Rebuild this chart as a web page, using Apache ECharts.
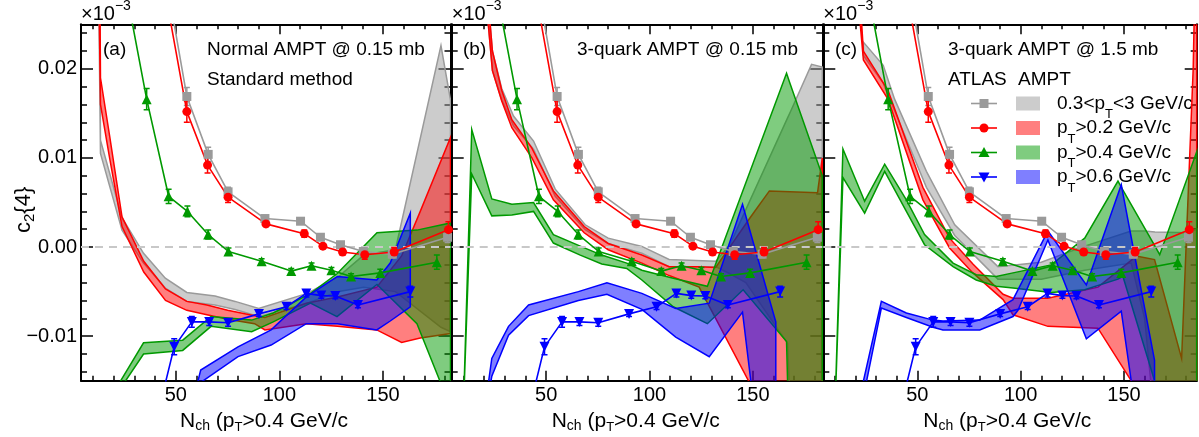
<!DOCTYPE html>
<html><head><meta charset="utf-8">
<script src="https://cdn.jsdelivr.net/npm/echarts@6/dist/echarts.min.js"></script>
<style>html,body{margin:0;padding:0;background:#fff;}#c{width:1199px;height:437px;}</style>
</head><body><div id="c"></div><script>
// ================= DATA (y values in units of 1e-3) =================
// ATLAS data points (same in every panel)
const atlasGrayX  = [46.5, 55.3, 65.6, 75.2, 93.0, 110.2, 119.8, 129.5, 140.5, 154.5, 181.2];
const atlasGrayY  = [28.6, 16.9, 10.4, 6.2, 3.2, 2.9, 1.1, 0.26, -0.5, -0.8, 1.1];
const atlasGrayE  = [0, 1.0, 0.8, 0.5, 0.3, 0.3, 0.3, 0.3, 0.3, 0.4, 0.6];
const atlasRedX   = [46.5, 55.3, 65.3, 75.2, 93.5, 112, 121, 130.5, 141.2, 155.4, 181.6];
const atlasRedY   = [26.5, 15.2, 9.2, 5.6, 2.6, 1.5, 0.1, -0.56, -0.86, -0.56, 1.95];
const atlasRedE   = [0, 1.2, 0.9, 0.6, 0.3, 0.4, 0.2, 0.3, 0.5, 0.5, 0.9];
const atlasGreenX = [25.5, 35.9, 46.5, 55.6, 65.6, 75.4, 91.4, 105.7, 115.5, 125.1, 134.6, 148.7, 176];
const atlasGreenY = [29.4, 16.6, 5.7, 4.0, 1.4, -0.5, -1.6, -2.7, -2.1, -2.6, -3.3, -2.9, -1.7];
const atlasGreenE = [0, 1.2, 0.8, 0.6, 0.5, 0.4, 0.3, 0.3, 0.3, 0.3, 0.3, 0.4, 0.8];
const atlasBlueX  = [41, 49.2, 57.7, 66.1, 75.2, 90.1, 103.4, 113, 120.2, 127, 137.9, 163.2];
const atlasBlueY  = [-19, -11.2, -8.4, -8.4, -8.5, -7.5, -6.7, -5.2, -5.45, -5.5, -6.5, -5.0];
const atlasBlueE  = [0, 0.9, 0.6, 0.4, 0.4, 0.3, 0.3, 0.4, 0.3, 0.3, 0.3, 0.6];

// AMPT bands, panel (a)
const grayA_x  = [12.2, 13.6, 24, 34.4, 44.9, 55.3, 68.9, 78.6, 90, 113.4, 128.6, 140.7, 156, 178, 182.6];
const grayA_lo = [40, 10.5, 1.9, -1.8, -4.6, -6.1, -6.5, -7.0, -7.8, -6.3, -5.0, -4.5, -5.0, -9.0, -9.5];
const grayA_hi = [70, 12, 3.3, -0.7, -3.5, -5.1, -5.5, -6.1, -6.9, -5.2, -3.3, -0.9, -0.3, 22.6, 16.5];
const redA_x   = [12.2, 13.6, 18, 24, 34.5, 45, 55.3, 65, 75, 88, 93, 113, 128, 147, 159, 168, 182.6];
const redA_lo  = [40, 16, 10, 2.3, -2.8, -6.0, -7.1, -7.6, -8.1, -8.6, -9.3, -8.6, -8.9, -9.3, -10.7, -10.2, -9.7];
const redA_hi  = [70, 19, 12.5, 3.4, -1.6, -4.7, -6.1, -6.5, -7.1, -7.7, -7.9, -6.3, -5.6, -4.5, -1.0, 4.0, 12.3];
const greenA_x  = [20, 34.4, 53.3, 67, 86.6, 97, 115, 127.8, 147.1, 166.4, 182.6];
const greenA_lo = [-17, -12.0, -11.6, -8.9, -9.5, -8.4, -6.3, -7.8, -4.2, -8.6, -18];
const greenA_hi = [-16.3, -10.75, -10.45, -7.8, -8.2, -7.4, -5.2, -3.0, 1.6, 1.9, 2.7];
const blueA_x  = [58, 62, 80, 96, 113, 128, 147, 153.5, 163.2];
const blueA_lo = [-19, -15.2, -12.3, -11.0, -8.6, -8.6, -9.3, -8.3, -6.7];
const blueA_hi = [-17.5, -13.8, -11.2, -9.3, -5.6, -3.3, -3.7, -1.8, 3.8];

// AMPT bands, panel (b)
const grayB_x  = [22.0, 24, 28.5, 34.2, 43.9, 54.4, 68.9, 80, 96.3, 109.5, 132.1, 138.9, 146.6, 166.8, 168.4, 178.4, 183.6];
const grayB_lo = [25, 19.8, 16.5, 13.6, 11.0, 5.7, 1.95, 0.4, -0.7, -2.2, -2.2, -3.0, -4.0, -10.8, -20, -20, -20];
const grayB_hi = [27.5, 22.0, 17.8, 14.7, 11.9, 6.5, 2.5, 1.0, 0.07, -1.4, -1.6, 0.26, 4.2, 14.5, 15.3, 20.5, 20.2];
const redB_x   = [22.0, 24, 28.5, 33.4, 43.1, 53.5, 68.4, 80, 96.3, 109.5, 124, 132, 149, 158, 181.3, 183.6];
const redB_lo  = [25, 19.8, 16.4, 13.4, 10.0, 5.3, 1.6, -0.3, -1.8, -3.2, -4.5, -8.0, -15.5, -20, -20, -20];
const redB_hi  = [27.5, 22.0, 17.6, 14.3, 11.1, 6.3, 2.3, 0.4, -0.9, -2.2, -2.2, -2.3, 3.4, 6.3, 6.1, 10];
const greenB_x  = [10.3, 14.0, 23.7, 33.4, 43.9, 53.5, 66.5, 76.9, 89, 96.3, 111.5, 128, 145.3, 166.3, 167.9, 183.6];
const greenB_lo = [-16, 8.2, 3.5, 3.6, 4.0, 0.45, -0.9, -1.9, -2.4, -3.7, -6.7, -8.6, -4.8, -10.6, -25, -25];
const greenB_hi = [-15.5, 13.2, 5.4, 4.8, 5.0, 1.4, 0.1, -0.9, -1.8, -2.6, -3.5, -4.4, 6.4, 19.5, 18.4, 8.0];
const blueB_x  = [21, 23.7, 31.8, 41.5, 65.6, 79.4, 96.3, 112.7, 128.9, 145, 149, 161.1];
const blueB_lo = [-18, -14.5, -9.9, -7.7, -6.0, -5.3, -7.0, -10.1, -12.3, -7.3, -15, -25];
const blueB_hi = [-17, -12.5, -8.9, -6.5, -5.0, -4.0, -5.2, -6.9, -6.3, 4.8, 1.5, -8.4];

// AMPT bands, panel (c)
const grayC_x  = [23.9, 33.5, 39, 54.4, 68.1, 89, 110, 131, 153.5, 160, 165, 181, 185.2];
const grayC_lo = [21.5, 18.4, 15.3, 6.7, 1.3, -3.6, -3.6, -2.6, -1.8, -8, -20, -20, -20];
const grayC_hi = [23, 20.4, 16.6, 8.5, 2.5, -2.2, -1.7, 0.1, 1.8, 1.8, 1.7, 1.6, 2.0];
const redC_x   = [22.0, 23.9, 35.8, 52.7, 65.6, 76.9, 91.5, 96.3, 113.2, 137.4, 153.5, 156, 164.8, 177.9, 183.5, 185.2];
const redC_lo  = [26, 21.0, 16.6, 5.3, -0.1, -2.9, -5.9, -7.6, -8.9, -9.1, -15, -20, -20, -20, -20, -20];
const redC_hi  = [29, 22.0, 17.6, 6.7, 1.0, -1.9, -5.3, -5.75, -5.75, -4.5, -1.5, -1.0, -1.4, -12.5, 20, 40];
const greenC_x  = [10.5, 14.0, 24.5, 34.2, 44.7, 53.5, 67.3, 78.5, 88.2, 96.3, 114.8, 131, 147.1, 149.5, 164.8, 167.3, 185.2];
const greenC_lo = [-16, 7.8, 3.8, 8.5, 4.0, 0.26, -2.2, -3.7, -4.4, -4.6, -5.1, -4.8, -3.6, -3.3, -15, -25, -25];
const greenC_hi = [-15.5, 11.0, 5.15, 9.3, 5.3, 1.4, -1.8, -3.1, -3.3, -2.9, -2.0, 1.0, 7.4, 6.4, 0.2, -0.86, 10.7];
const blueC_x  = [22.0, 32.6, 44.7, 57.6, 62.4, 80.2, 96.3, 98.7, 113.2, 131.8, 148.7, 153.5, 164.8];
const blueC_lo = [-19, -6.85, -7.9, -9.0, -9.3, -9.3, -7.8, -7.1, 0.8, -10.3, -7.2, -15, -25];
const blueC_hi = [-17, -6.1, -7.4, -8.2, -8.3, -8.2, -5.9, -4.8, 1.8, -4.25, 7.0, 1.1, -12.7];

// axis ranges and ticks
const panelXRange = [[4.2, 182.6], [4.3, 183.6], [4.5, 185.2]];
const yRange = [-15, 25];
const xMajorTicks = [50, 100, 150];
const xMinorTicks = [10, 20, 30, 40, 60, 70, 80, 90, 110, 120, 130, 140, 160, 170, 180];
const yMajorTicks = [-10, 0, 10, 20];
const yMinorTicks = [-14, -12, -8, -6, -4, -2, 2, 4, 6, 8, 12, 14, 16, 18, 22, 24];
const panelLabels = ['(a)', '(b)', '(c)'];
const panelTitles = ['Normal AMPT @ 0.15 mb', '3-quark AMPT @ 0.15 mb', '3-quark AMPT @ 1.5 mb'];
const legendLabels = [['0.3<p', 'T', '<3 GeV/c'], ['p', 'T', '>0.2 GeV/c'], ['p', 'T', '>0.4 GeV/c'], ['p', 'T', '>0.6 GeV/c']];

// ================= STYLE / LAYOUT =================
const FONT = '"Liberation Sans", Arial, Helvetica, sans-serif';
const gridPx = [[81, 369.5], [451.7, 370.6], [823.3, 373.4]];
const GTOP = 24.3, GH = 356.4;
const COL = {
  gray:  {line: '#9a9a9a', fill: 'rgba(153,153,153,0.5)'},
  red:   {line: '#ff0000', fill: 'rgba(255,0,0,0.5)'},
  green: {line: '#009900', fill: 'rgba(0,153,0,0.5)'},
  blue:  {line: '#0000ff', fill: 'rgba(0,0,255,0.5)'}
};
const bandsByPanel = [
  [[grayA_x, grayA_lo, grayA_hi, 'gray'], [redA_x, redA_lo, redA_hi, 'red'], [greenA_x, greenA_lo, greenA_hi, 'green'], [blueA_x, blueA_lo, blueA_hi, 'blue']],
  [[grayB_x, grayB_lo, grayB_hi, 'gray'], [redB_x, redB_lo, redB_hi, 'red'], [greenB_x, greenB_lo, greenB_hi, 'green'], [blueB_x, blueB_lo, blueB_hi, 'blue']],
  [[grayC_x, grayC_lo, grayC_hi, 'gray'], [redC_x, redC_lo, redC_hi, 'red'], [greenC_x, greenC_lo, greenC_hi, 'green'], [blueC_x, blueC_lo, blueC_hi, 'blue']]
];
const atlas = [
  [atlasGrayX, atlasGrayY, atlasGrayE, 'gray', 'rect', 9, 0],
  [atlasRedX, atlasRedY, atlasRedE, 'red', 'circle', 9, 0],
  [atlasGreenX, atlasGreenY, atlasGreenE, 'green', 'triangle', 10, 0],
  [atlasBlueX, atlasBlueY, atlasBlueE, 'blue', 'triangle', 10, 180]
];

const grids = [], xAxes = [], yAxes = [], series = [];
function yFmt(v) { return (v < 0 ? '\u2212' : '') + (Math.abs(v) / 1000).toFixed(2); }

for (let gi = 0; gi < 3; gi++) {
  grids.push({left: gridPx[gi][0], top: GTOP, width: gridPx[gi][1], height: GH, containLabel: false});
  const [xmin, xmax] = panelXRange[gi];
  const mkX = (pos, ticks, len, lineShow, labels) => ({
    type: 'value', gridIndex: gi, position: pos, min: xmin, max: xmax,
    axisLine: {show: lineShow, onZero: false, lineStyle: {color: '#000', width: 2}},
    axisTick: {show: true, inside: true, length: len, customValues: ticks, lineStyle: {color: '#000', width: 1.5}},
    axisLabel: labels ? {show: true, customValues: xMajorTicks, fontSize: 20, fontFamily: FONT, color: '#000', margin: 5} : {show: false},
    splitLine: {show: false}
  });
  xAxes.push(mkX('bottom', xMajorTicks, 10, true, true));
  xAxes.push(mkX('bottom', xMinorTicks, 5, false, false));
  xAxes.push(mkX('top', xMajorTicks, 10, true, false));
  xAxes.push(mkX('top', xMinorTicks, 5, false, false));
  const mkY = (pos, ticks, len, lineShow, labels) => ({
    type: 'value', gridIndex: gi, position: pos, min: yRange[0], max: yRange[1],
    axisLine: {show: lineShow, onZero: false, lineStyle: {color: '#000', width: 2}},
    axisTick: {show: true, inside: true, length: len, customValues: ticks, lineStyle: {color: '#000', width: 1.5}},
    axisLabel: labels ? {show: true, customValues: yMajorTicks, formatter: yFmt, fontSize: 20, fontFamily: FONT, color: '#000', margin: 4} : {show: false},
    splitLine: {show: false}
  });
  yAxes.push(mkY('left', yMajorTicks, 12, true, gi === 0));
  yAxes.push(mkY('left', yMinorTicks, 6, false, false));
  yAxes.push(mkY('right', yMajorTicks, 12, true, false));
  yAxes.push(mkY('right', yMinorTicks, 6, false, false));

  // bands
  bandsByPanel[gi].forEach(([bx, blo, bhi, key], bi) => {
    const data = bx.map((x, k) => [x, blo[k], bhi[k]]);
    series.push({
      type: 'custom', xAxisIndex: 4 * gi, yAxisIndex: 4 * gi, clip: true, silent: true, z: 2 + bi * 0.01,
      data: data, encode: {x: 0, y: [1, 2]},
      renderItem: (params, api) => {
        if (params.dataIndex !== 0) return null;
        const up = data.map(d => api.coord([d[0], d[2]]));
        const dn = data.map(d => api.coord([d[0], d[1]])).reverse();
        return {type: 'polygon', shape: {points: up.concat(dn)},
          style: {fill: COL[key].fill, stroke: COL[key].line, lineWidth: 1.5, lineJoin: 'miter'}};
      }
    });
  });
  // zero dashed line
  series.push({
    type: 'line', xAxisIndex: 4 * gi, yAxisIndex: 4 * gi, data: [], z: 3, silent: true,
    markLine: {silent: true, symbol: 'none', label: {show: false}, animation: false,
      lineStyle: {type: [8, 6], color: '#c8c8c8', width: 2}, data: [{yAxis: 0}]}
  });
  // ATLAS
  atlas.forEach(([ax, ay, ae, key, sym, size, rot]) => {
    const c = COL[key].line;
    series.push({
      type: 'line', xAxisIndex: 4 * gi, yAxisIndex: 4 * gi, data: ax.map((x, k) => [x, ay[k]]),
      symbol: sym, symbolSize: size, symbolRotate: rot, showAllSymbol: true, silent: true, z: 6,
      lineStyle: {color: c, width: 1.6}, itemStyle: {color: c}
    });
    series.push({
      type: 'custom', xAxisIndex: 4 * gi, yAxisIndex: 4 * gi, clip: true, silent: true, z: 6,
      data: ax.map((x, k) => [x, ay[k], ae[k]]), encode: {x: 0, y: 1},
      renderItem: (params, api) => {
        const x = api.value(0), y = api.value(1), e = api.value(2);
        if (!e) return null;
        const a = api.coord([x, y - e]), b = api.coord([x, y + e]);
        const st = {stroke: c, lineWidth: 1.5};
        return {type: 'group', children: [
          {type: 'line', shape: {x1: a[0], y1: a[1], x2: b[0], y2: b[1]}, style: st},
          {type: 'line', shape: {x1: a[0] - 3, y1: a[1], x2: a[0] + 3, y2: a[1]}, style: st},
          {type: 'line', shape: {x1: b[0] - 3, y1: b[1], x2: b[0] + 3, y2: b[1]}, style: st}
        ]};
      }
    });
  });
}

// ================= TEXT =================
const mctx = document.createElement('canvas').getContext('2d');
function tw(t, s) { mctx.font = s + 'px ' + FONT; return mctx.measureText(t).width; }
function rtext(segs, x, y, rotation) {
  const els = []; let cx = 0;
  segs.forEach(([t, s, dy]) => {
    els.push({type: 'text', x: cx, y: dy || 0, silent: true,
      style: {text: t, font: s + 'px ' + FONT, fill: '#000', textAlign: 'left', textVerticalAlign: 'middle'}});
    cx += tw(t, s);
  });
  return {type: 'group', x: x, y: y, rotation: rotation || 0, silent: true, children: els, z: 100};
}
const graphics = [];
const titleX = [180, 551.7, 923.3];
const panelLabelX = [103, 463, 835];
for (let gi = 0; gi < 3; gi++) {
  const L = gridPx[gi][0];
  graphics.push(rtext([['\u00d710', 20, 0], ['\u22123', 14, -8]], L, 14));
  graphics.push(rtext([[panelLabels[gi], 19, 0]], panelLabelX[gi], 50));
  graphics.push(rtext([['N', 21, 0], ['ch', 14, 5.5], [' (p', 21, 0], ['T', 13, 6.5], ['>0.4 GeV/c', 21, 0]], titleX[gi], 421));
}
graphics.push(rtext([[panelTitles[0], 19, 0]], 207, 50));
graphics.push(rtext([['Standard method', 19, 0]], 207, 80));
graphics.push(rtext([[panelTitles[1], 19, 0]], 577, 50));
graphics.push(rtext([[panelTitles[2], 19, 0]], 948, 50));
graphics.push(rtext([['ATLAS', 19, 0]], 948, 80));
graphics.push(rtext([['AMPT', 19, 0]], 1018, 80));
graphics.push(rtext([['c', 22, 0], ['2', 15, 6], ['{4}', 22, 0]], 24, 233, Math.PI / 2));

// legend
const legendRowY = [103.5, 128, 152.5, 177];
['gray', 'red', 'green', 'blue'].forEach((key, i) => {
  const y = legendRowY[i], c = COL[key].line;
  graphics.push({type: 'line', silent: true, z: 100, shape: {x1: 971, y1: y, x2: 997, y2: y}, style: {stroke: c, lineWidth: 1.6}});
  let m;
  if (i === 0) m = {type: 'rect', shape: {x: 979.5, y: y - 4.5, width: 9, height: 9}};
  else if (i === 1) m = {type: 'circle', shape: {cx: 984, cy: y, r: 4.5}};
  else if (i === 2) m = {type: 'polygon', shape: {points: [[984, y - 5.5], [978.5, y + 4.5], [989.5, y + 4.5]]}};
  else m = {type: 'polygon', shape: {points: [[984, y + 5.5], [978.5, y - 4.5], [989.5, y - 4.5]]}};
  m.style = {fill: c}; m.silent = true; m.z = 100;
  graphics.push(m);
  graphics.push({type: 'rect', silent: true, z: 100, shape: {x: 1016, y: y - 7, width: 24, height: 14}, style: {fill: COL[key].fill}});
  const lab = legendLabels[i];
  graphics.push(rtext([[lab[0], 19, 0], [lab[1], 13, 11], [lab[2], 19, 0]], 1057, y));
});

const chart = echarts.init(document.getElementById('c'), null, {renderer: 'canvas'});
chart.setOption({
  animation: false,
  backgroundColor: '#fff',
  grid: grids, xAxis: xAxes, yAxis: yAxes, series: series, graphic: graphics
});
</script></body></html>
